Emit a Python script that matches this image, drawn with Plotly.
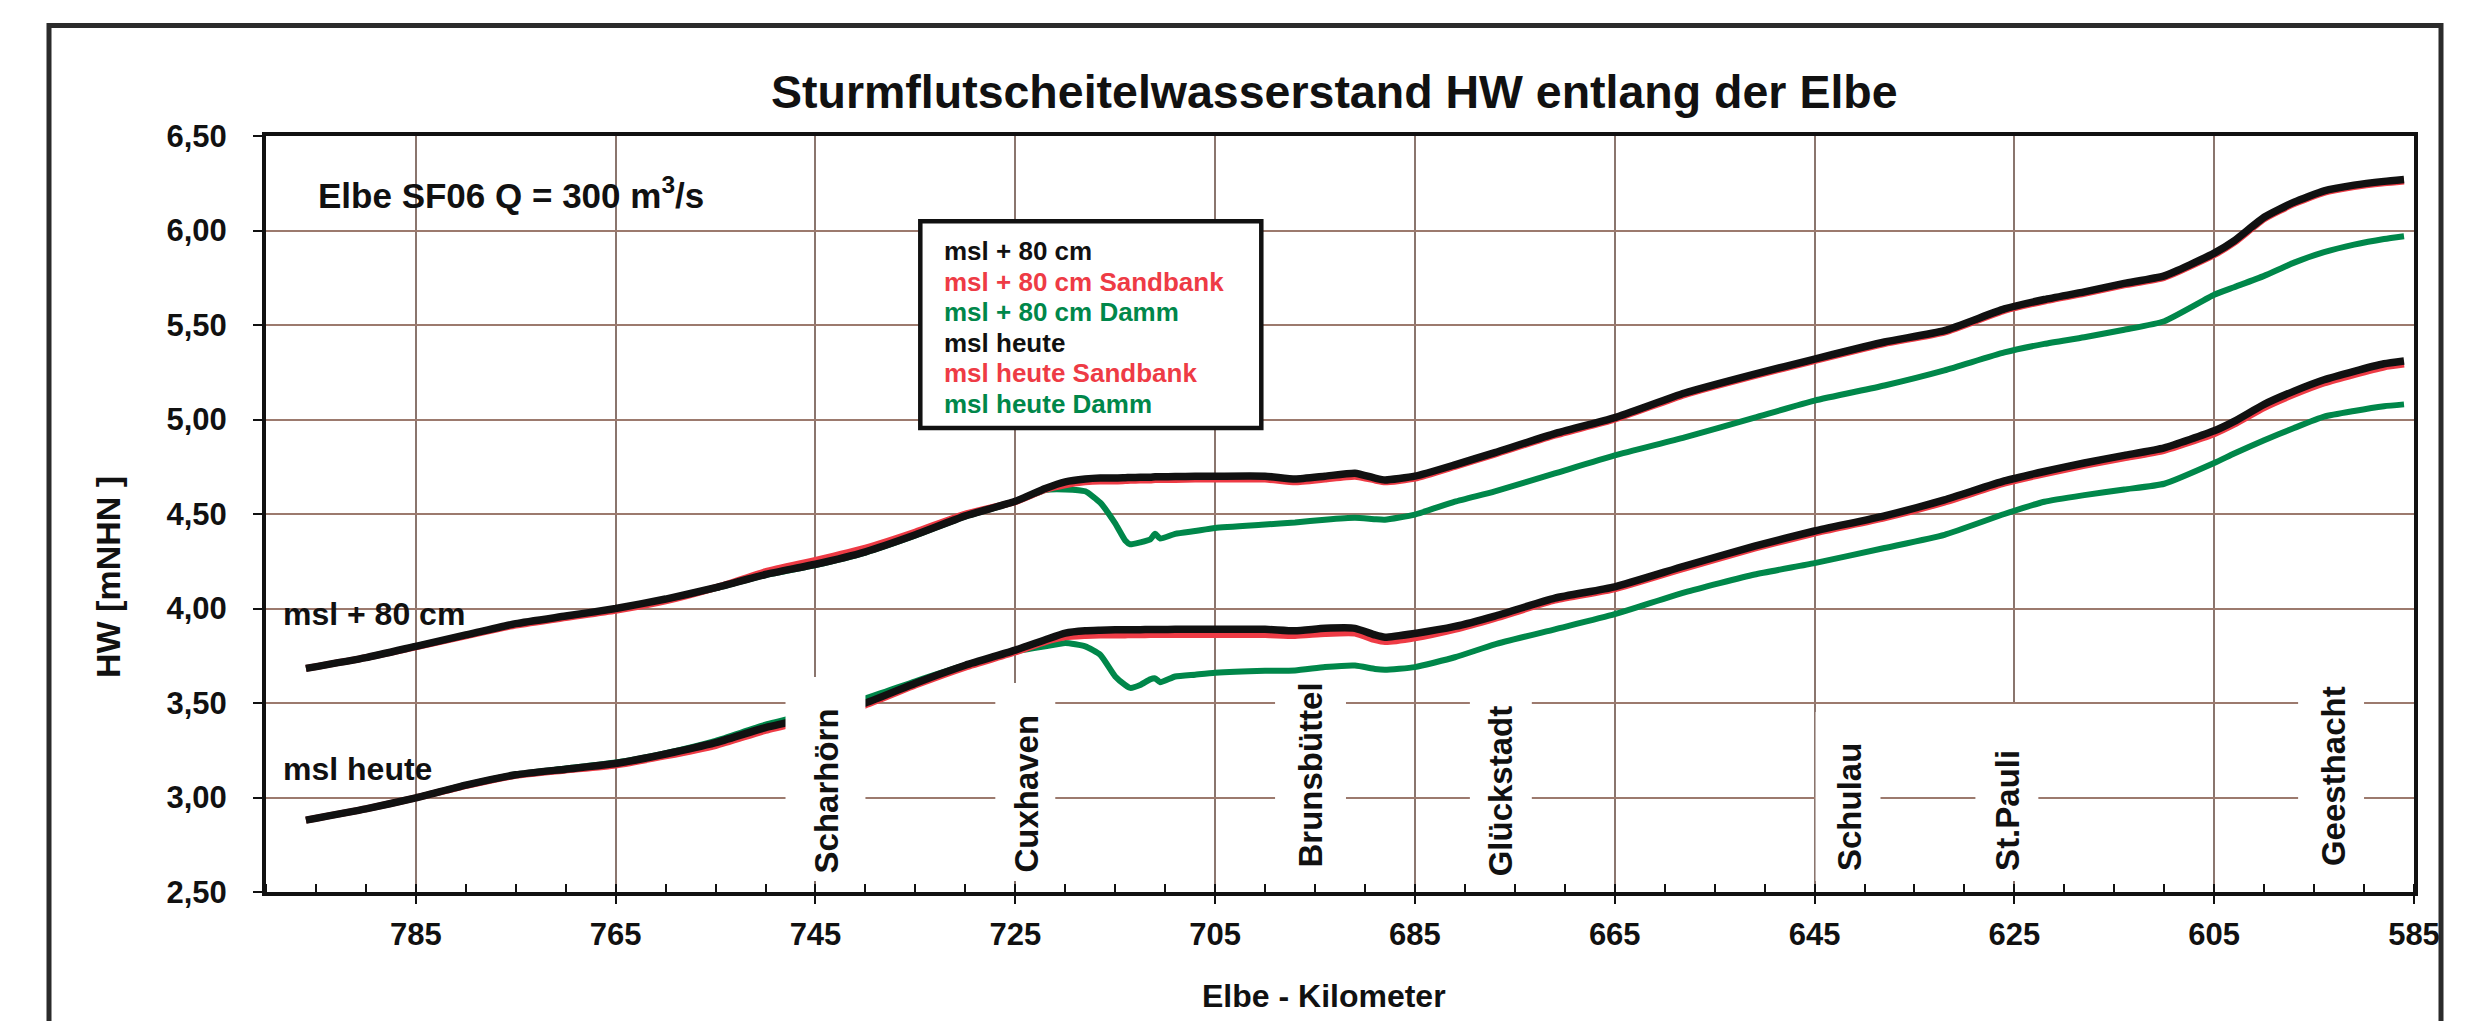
import plotly.graph_objects as go

# ---------------- data ----------------
km = [796, 790, 785, 780, 775, 770, 765, 760, 755, 750, 745, 740, 735, 730, 725, 722, 720, 718,
      716.5, 715, 714, 713.5, 712.5, 711.5, 711, 710.5, 709, 707, 705, 700, 697, 694, 691, 689,
      688, 685, 681, 677, 671, 665, 658, 651, 645, 638, 632, 626, 622, 618, 614, 610, 605, 603,
      600, 597, 594, 591, 588, 586]

hw_80 = [3.683, 3.74, 3.80, 3.86, 3.92, 3.96, 4.00, 4.05, 4.11, 4.18, 4.234, 4.30, 4.39, 4.49,
         4.567, 4.635, 4.67, 4.685, 4.69, 4.69, 4.692, 4.693, 4.695, 4.695, 4.697, 4.697, 4.698,
         4.70, 4.70, 4.70, 4.685, 4.70, 4.716, 4.69, 4.68, 4.70, 4.76, 4.825, 4.925, 5.01, 5.14,
         5.24, 5.32, 5.41, 5.47, 5.585, 5.635, 5.675, 5.72, 5.76, 5.88, 5.945, 6.07, 6.15, 6.21,
         6.24, 6.26, 6.27]

hw_80_sand = [3.683, 3.74, 3.797, 3.855, 3.912, 3.952, 3.99, 4.04, 4.11, 4.195, 4.255, 4.32,
              4.405, 4.50, 4.565, 4.63, 4.655, 4.67, 4.675, 4.675, 4.677, 4.678, 4.68, 4.68,
              4.682, 4.682, 4.683, 4.685, 4.685, 4.685, 4.67, 4.685, 4.70, 4.68, 4.67, 4.69,
              4.752, 4.817, 4.917, 5.002, 5.132, 5.232, 5.312, 5.402, 5.462, 5.577, 5.627,
              5.667, 5.712, 5.752, 5.872, 5.937, 6.062, 6.142, 6.202, 6.232, 6.252, 6.262]

hw_80_damm = [3.683, 3.74, 3.80, 3.86, 3.918, 3.958, 3.998, 4.048, 4.107, 4.177, 4.23, 4.296,
              4.386, 4.487, 4.565, 4.627, 4.63, 4.62, 4.56, 4.45, 4.36, 4.34, 4.35, 4.365,
              4.395, 4.37, 4.395, 4.41, 4.426, 4.444, 4.455, 4.47, 4.48, 4.472, 4.47, 4.497,
              4.565, 4.62, 4.715, 4.81, 4.905, 5.01, 5.10, 5.18, 5.26, 5.355, 5.40, 5.435,
              5.475, 5.52, 5.66, 5.70, 5.76, 5.83, 5.885, 5.925, 5.955, 5.97]

hw_heute = [2.88, 2.94, 2.998, 3.065, 3.12, 3.15, 3.18, 3.23, 3.29, 3.37, 3.43, 3.50, 3.605,
            3.70, 3.78, 3.835, 3.87, 3.882, 3.885, 3.887, 3.887, 3.888, 3.888, 3.889, 3.889,
            3.889, 3.89, 3.89, 3.89, 3.89, 3.882, 3.895, 3.895, 3.86, 3.848, 3.868, 3.905,
            3.96, 4.055, 4.115, 4.225, 4.33, 4.41, 4.49, 4.575, 4.675, 4.725, 4.77, 4.81,
            4.85, 4.94, 4.99, 5.08, 5.15, 5.21, 5.255, 5.295, 5.31]

hw_heute_sand = [2.88, 2.94, 2.998, 3.063, 3.117, 3.145, 3.172, 3.22, 3.275, 3.355, 3.42, 3.49,
                 3.595, 3.69, 3.77, 3.825, 3.85, 3.857, 3.86, 3.86, 3.86, 3.861, 3.861, 3.862,
                 3.862, 3.862, 3.862, 3.862, 3.862, 3.862, 3.857, 3.868, 3.87, 3.835, 3.825,
                 3.845, 3.89, 3.948, 4.044, 4.104, 4.214, 4.319, 4.399, 4.479, 4.563, 4.663,
                 4.713, 4.757, 4.797, 4.837, 4.925, 4.975, 5.063, 5.133, 5.193, 5.238, 5.278, 5.293]

hw_heute_damm = [2.88, 2.94, 2.998, 3.066, 3.122, 3.153, 3.185, 3.235, 3.30, 3.385, 3.45,
                 3.524, 3.615, 3.70, 3.772, 3.80, 3.818, 3.80, 3.755, 3.64, 3.595, 3.58, 3.595,
                 3.625, 3.63, 3.61, 3.64, 3.65, 3.66, 3.67, 3.672, 3.69, 3.698, 3.68, 3.676,
                 3.69, 3.742, 3.81, 3.89, 3.97, 4.085, 4.18, 4.24, 4.32, 4.39, 4.50, 4.565, 4.60,
                 4.63, 4.66, 4.77, 4.82, 4.89, 4.955, 5.015, 5.045, 5.07, 5.08]

series_names = ["msl + 80 cm", "msl + 80 cm Sandbank", "msl + 80 cm Damm",
                "msl heute", "msl heute Sandbank", "msl heute Damm"]

stations = ["Scharhörn", "Cuxhaven", "Brunsbüttel", "Glückstadt", "Schulau", "St.Pauli", "Geesthacht"]
station_km = [743.85, 723.97, 695.5, 676.4, 641.55, 625.7, 593.1]

x_ticks = [785, 765, 745, 725, 705, 685, 665, 645, 625, 605, 585]
y_ticks = [2.5, 3.0, 3.5, 4.0, 4.5, 5.0, 5.5, 6.0, 6.5]

# ---------------- layout geometry (pixels, in screen coordinates) ----------------
OFF = 8                      # page body margin around the plot div
W, H = 2485 - OFF, 1021 - OFF
PL, PR, PT, PB = 266, 2414, 136, 892


def xp(px):
    return (px - PL) / (PR - PL)


def yp(py):
    return (PB - py) / (PB - PT)


BLACK = "#111111"
RED = "#ee3b45"
GREEN = "#00874a"
FONT = "Liberation Sans, Arial, Helvetica, sans-serif"

fig = go.Figure()

series = [hw_80, hw_80_sand, hw_80_damm, hw_heute, hw_heute_sand, hw_heute_damm]
colors = [BLACK, RED, GREEN, BLACK, RED, GREEN]
widths = [7.5, 7, 6, 7.5, 7, 6]
for idx in [2, 1, 0, 5, 4, 3]:
    fig.add_trace(go.Scatter(x=km, y=series[idx], mode="lines", name=series_names[idx],
                             line=dict(color=colors[idx], width=widths[idx],
                                       shape="spline", smoothing=0.5),
                             showlegend=False))

shapes = []
shapes.append(dict(type="rect", xref="paper", yref="paper",
                   x0=xp(49), x1=xp(2441), y0=yp(1060), y1=yp(25.5),
                   line=dict(color="#2b2b2b", width=5), fillcolor="rgba(0,0,0,0)", layer="above"))
shapes.append(dict(type="rect", xref="paper", yref="paper",
                   x0=xp(920.3), x1=xp(1261.3), y0=yp(428), y1=yp(221.3),
                   line=dict(color=BLACK, width=4.5), fillcolor="white", layer="above"))
box_specs = [(748.0, 740.0, 677), (727.0, 721.0, 683), (699.0, 691.9, 674), (679.5, 673.3, 680),
             (644.9, 638.4, 712), (628.9, 622.6, 704), (596.6, 590.0, 660)]
for k0, k1, top in box_specs:
    shapes.append(dict(type="rect", xref="x", yref="paper", x0=k0, x1=k1,
                       y0=yp(881), y1=yp(top), line=dict(width=0), fillcolor="white",
                       layer="above"))

annotations = []
annotations.append(dict(text="Sturmflutscheitelwasserstand HW entlang der Elbe",
                        xref="paper", yref="paper", x=xp(1334), y=yp(92),
                        xanchor="center", yanchor="middle", showarrow=False,
                        font=dict(family=FONT, size=46.5, color=BLACK, weight="bold")))
annotations.append(dict(text="Elbe SF06 Q = 300 m<sup>3</sup>/s",
                        xref="paper", yref="paper", x=xp(316), y=yp(193),
                        xanchor="left", yanchor="middle", showarrow=False,
                        font=dict(family=FONT, size=35, color=BLACK, weight="bold")))
annotations.append(dict(text="msl + 80 cm", xref="paper", yref="paper", x=xp(281), y=yp(614),
                        xanchor="left", yanchor="middle", showarrow=False,
                        font=dict(family=FONT, size=32, color=BLACK, weight="bold")))
annotations.append(dict(text="msl heute", xref="paper", yref="paper", x=xp(281), y=yp(769),
                        xanchor="left", yanchor="middle", showarrow=False,
                        font=dict(family=FONT, size=32, color=BLACK, weight="bold")))
leg_y = [251, 281.5, 312, 342.5, 373, 403.5]
for name, col, yy in zip(series_names, colors, leg_y):
    annotations.append(dict(text=name, xref="paper", yref="paper", x=xp(942), y=yp(yy),
                            xanchor="left", yanchor="middle", showarrow=False,
                            font=dict(family=FONT, size=26, color=col, weight="bold")))
label_bottom = [875, 875, 870, 878, 873, 873, 868]
for name, k, bot in zip(stations, station_km, label_bottom):
    annotations.append(dict(text=name, xref="x", yref="paper", x=k, y=yp(bot),
                            xanchor="center", yanchor="bottom", textangle=-90, showarrow=False,
                            font=dict(family=FONT, size=33, color=BLACK, weight="bold")))
annotations.append(dict(text="Elbe - Kilometer", xref="paper", yref="paper", x=xp(1324), y=yp(996),
                        xanchor="center", yanchor="middle", showarrow=False,
                        font=dict(family=FONT, size=32, color=BLACK, weight="bold")))
annotations.append(dict(text="HW [mNHN ]", xref="paper", yref="paper", x=xp(108), y=yp(577),
                        xanchor="center", yanchor="middle", textangle=-90, showarrow=False,
                        font=dict(family=FONT, size=34, color=BLACK, weight="bold")))

fig.update_layout(
    width=W, height=H,
    margin=dict(l=PL - OFF, r=2485 - PR, t=PT - OFF, b=1021 - PB, pad=0),
    paper_bgcolor="white", plot_bgcolor="white",
    separators=",.",
    shapes=shapes, annotations=annotations,
    showlegend=False,
)

fig.update_xaxes(
    range=[800, 585], tickvals=x_ticks, ticktext=[str(v) for v in x_ticks],
    showgrid=True, gridcolor="#8a756e", gridwidth=1.5,
    showline=True, linecolor=BLACK, linewidth=4, mirror=True,
    ticks="outside", ticklen=8, tickwidth=2, tickcolor=BLACK,
    ticklabelstandoff=4,
    tickfont=dict(family=FONT, size=31, color=BLACK, weight="bold"),
    minor=dict(dtick=5, tick0=585, ticks="inside", ticklen=8, tickwidth=2, tickcolor=BLACK,
               showgrid=False),
    zeroline=False,
)
fig.update_yaxes(
    range=[2.5, 6.5], tickvals=y_ticks, tickformat=".2f",
    showgrid=True, gridcolor="#9c7a6e", gridwidth=1.5,
    showline=True, linecolor=BLACK, linewidth=4, mirror=True,
    ticks="outside", ticklen=9, tickwidth=2, tickcolor=BLACK,
    ticklabelstandoff=20,
    tickfont=dict(family=FONT, size=31, color=BLACK, weight="bold"),
    zeroline=False,
)

fig.write_html("out.html")
